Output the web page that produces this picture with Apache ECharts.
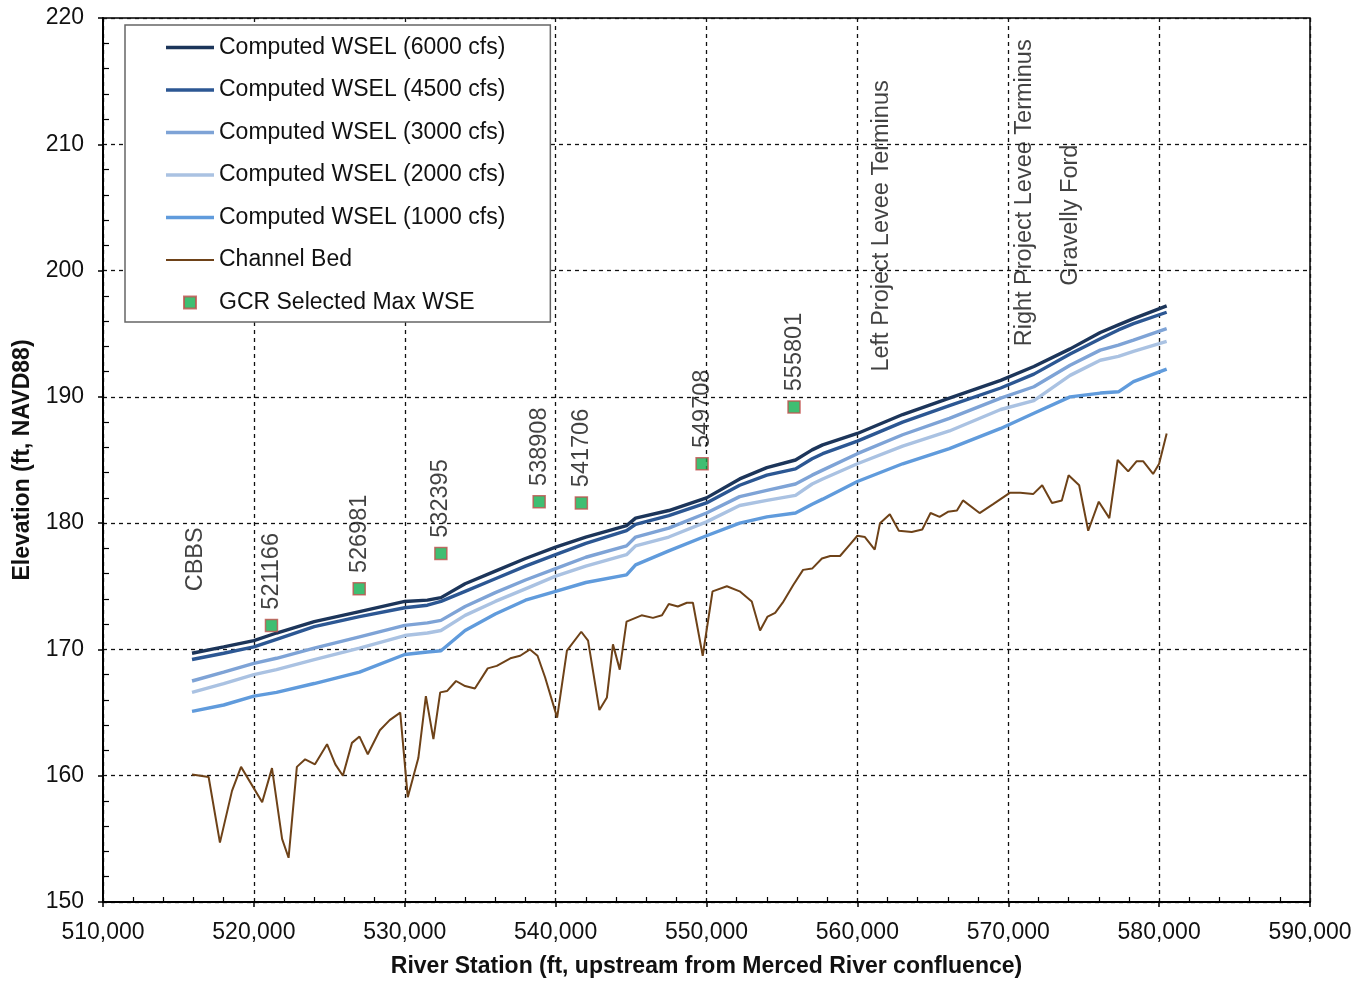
<!DOCTYPE html>
<html>
<head>
<meta charset="utf-8">
<script src="https://cdn.jsdelivr.net/npm/echarts@6/dist/echarts.min.js"></script>
<style>html,body{margin:0;padding:0;background:#fff}#c{width:1361px;height:983px}</style>
</head>
<body>
<div id="c"></div>
<script>
// ---------- DATA ----------
const wselStations = [515900, 518000, 520000, 521500, 524000, 527000, 530000, 531500, 532400, 534000, 536000, 538000, 540000, 542000, 544700, 545300, 547500, 550000, 552200, 554000, 555900, 557000, 557700, 560000, 563000, 566100, 569500, 571700, 574100, 576100, 577300, 578300, 580500];
const wsel6000 = [169.7, 170.2, 170.7, 171.3, 172.2, 173.0, 173.8, 173.9, 174.1, 175.2, 176.2, 177.2, 178.1, 178.9, 179.8, 180.4, 181.0, 182.0, 183.5, 184.4, 185.0, 185.8, 186.2, 187.1, 188.6, 189.9, 191.3, 192.4, 193.8, 195.1, 195.7, 196.2, 197.2];
const wsel4500 = [169.2, 169.7, 170.2, 170.8, 171.8, 172.6, 173.3, 173.5, 173.8, 174.6, 175.6, 176.6, 177.5, 178.4, 179.4, 179.9, 180.6, 181.6, 183.0, 183.8, 184.3, 185.1, 185.5, 186.5, 188.0, 189.3, 190.7, 191.8, 193.4, 194.6, 195.3, 195.8, 196.7];
const wsel3000 = [167.5, 168.2, 168.9, 169.3, 170.1, 171.0, 171.9, 172.1, 172.3, 173.4, 174.5, 175.5, 176.4, 177.3, 178.2, 178.9, 179.6, 180.8, 182.1, 182.6, 183.1, 183.8, 184.2, 185.5, 187.0, 188.3, 189.9, 190.8, 192.5, 193.7, 194.1, 194.5, 195.4];
const wsel2000 = [166.6, 167.3, 168.0, 168.4, 169.2, 170.1, 171.1, 171.3, 171.5, 172.7, 173.8, 174.8, 175.8, 176.6, 177.5, 178.2, 178.9, 180.1, 181.4, 181.8, 182.2, 183.1, 183.5, 184.7, 186.1, 187.3, 189.0, 189.7, 191.7, 192.9, 193.2, 193.6, 194.4];
const wsel1000 = [165.1, 165.6, 166.3, 166.6, 167.3, 168.2, 169.6, 169.8, 169.9, 171.5, 172.8, 173.9, 174.6, 175.3, 175.9, 176.7, 177.8, 179.0, 180.0, 180.5, 180.8, 181.5, 181.9, 183.3, 184.7, 185.9, 187.5, 188.7, 190.0, 190.3, 190.4, 191.2, 192.2];

const bedStations = [515900, 517000, 517750, 518550, 519150, 520550, 521200, 521870, 522300, 522850, 523400, 524050, 524850, 525400, 525900, 526500, 527000, 527550, 528350, 529000, 529700, 530200, 530900, 531400, 531900, 532350, 532800, 533400, 534000, 534650, 535500, 536100, 537000, 537650, 538300, 538800, 539300, 540100, 540750, 541700, 542150, 542900, 543400, 543800, 544250, 544700, 545700, 546450, 547050, 547500, 548100, 548700, 549100, 549750, 550400, 551350, 552200, 553000, 553550, 554050, 554550, 555050, 555750, 556400, 557000, 557650, 558200, 558850, 559500, 560000, 560500, 561150, 561500, 562150, 562750, 563600, 564300, 564850, 565450, 566000, 566600, 567000, 568100, 569000, 570100, 570800, 571650, 572250, 572900, 573550, 574000, 574700, 575300, 576000, 576700, 577250, 577950, 578500, 578950, 579600, 580000, 580500];
const bedElev = [160.1, 159.9, 154.7, 158.8, 160.7, 157.9, 160.6, 155.0, 153.5, 160.7, 161.3, 160.9, 162.5, 160.9, 160.0, 162.6, 163.1, 161.7, 163.6, 164.4, 165.0, 158.3, 161.4, 166.3, 162.9, 166.6, 166.7, 167.5, 167.1, 166.9, 168.5, 168.7, 169.3, 169.5, 170.0, 169.5, 167.8, 164.6, 169.9, 171.4, 170.7, 165.2, 166.2, 170.4, 168.4, 172.2, 172.7, 172.5, 172.7, 173.6, 173.4, 173.7, 173.7, 169.5, 174.6, 175.0, 174.6, 173.8, 171.5, 172.6, 172.9, 173.7, 175.1, 176.3, 176.4, 177.2, 177.4, 177.4, 178.3, 179.0, 178.9, 177.9, 180.0, 180.7, 179.4, 179.3, 179.5, 180.8, 180.5, 180.9, 181.0, 181.8, 180.8, 181.5, 182.4, 182.4, 182.3, 183.0, 181.6, 181.8, 183.8, 183.0, 179.4, 181.7, 180.4, 185.0, 184.1, 184.9, 184.9, 183.9, 184.7, 187.1];

const gcrStations = [521166, 526981, 532395, 538908, 541706, 549708, 555801];
const gcrElev = [171.9, 174.8, 177.6, 181.7, 181.6, 184.7, 189.2];

const annotationText = ['CBBS', 'Left Project Levee Terminus', 'Right Project Levee Terminus', 'Gravelly Ford'];
const annotationStation = [516100, 561600, 571100, 574100];
const annotationElev = [174.6, 192.0, 194.0, 198.8];

const seriesNames = ['Computed WSEL (6000 cfs)', 'Computed WSEL (4500 cfs)', 'Computed WSEL (3000 cfs)', 'Computed WSEL (2000 cfs)', 'Computed WSEL (1000 cfs)', 'Channel Bed', 'GCR Selected Max WSE'];
const xTitle = 'River Station (ft, upstream from Merced River confluence)';
const yTitle = 'Elevation (ft, NAVD88)';

// ---------- CHART ----------
const FONT = '"Liberation Sans", Arial, sans-serif';
const pair = (xs, ys) => xs.map((x, i) => [x, ys[i]]);
const wselColors = ['#1C355A', '#2C5793', '#7EA3D6', '#AAC2E2', '#609BDC'];
const bedColor = '#6E4218';
const wselData = [wsel6000, wsel4500, wsel3000, wsel2000, wsel1000];

const series = [];
wselData.forEach((vals, i) => {
  series.push({
    name: seriesNames[i], type: 'line', data: pair(wselStations, vals),
    symbol: 'none', lineStyle: { color: wselColors[i], width: 3.4 },
    itemStyle: { color: wselColors[i] }, z: 10 - i, silent: true
  });
});
series.push({
  name: seriesNames[5], type: 'line', data: pair(bedStations, bedElev),
  symbol: 'none', lineStyle: { color: bedColor, width: 2 }, itemStyle: { color: bedColor }, silent: true
});
series.push({
  name: seriesNames[6], type: 'scatter', data: pair(gcrStations, gcrElev),
  symbol: 'rect', symbolSize: 12, z: 12,
  itemStyle: { color: '#0FAE4F', borderColor: '#C0504D', borderWidth: 1.5 },
  label: {
    show: true, position: 'top', distance: 9, rotate: 90, align: 'left', verticalAlign: 'middle',
    formatter: p => String(p.value[0]), fontFamily: FONT, fontSize: 23.5, color: '#111'
  }, silent: true
});
series.push({
  name: 'annotations', type: 'scatter',
  data: annotationText.map((t, i) => ({ value: [annotationStation[i], annotationElev[i]], name: t })),
  symbol: 'circle', symbolSize: 0.1, itemStyle: { color: 'transparent' },
  label: {
    show: true, position: 'top', distance: 0, rotate: 90, align: 'left', verticalAlign: 'middle',
    formatter: p => p.name, fontFamily: FONT, fontSize: 23.5, color: '#111'
  }, silent: true
});

const thickLine = 'path://M0,0M48,14M0,5.3L48,5.3L48,8.7L0,8.7Z';
const thinLine = 'path://M0,0M48,14M0,6L48,6L48,8L0,8Z';
const squareIcon = 'path://M0,0M48,14M18,1L30,1L30,13L18,13Z';

const chart = echarts.init(document.getElementById('c'), null, { renderer: 'canvas' });
chart.setOption({
  backgroundColor: '#fff',
  animation: false,
  textStyle: { fontFamily: FONT },
  grid: { left: 103, right: 51, top: 18, bottom: 78, show: true, borderColor: '#000', borderWidth: 1.5, backgroundColor: 'transparent' },
  legend: {
    orient: 'vertical', left: 125, top: 25,
    padding: [11, 45, 8, 40], itemGap: 19.5, itemWidth: 48, itemHeight: 14,
    backgroundColor: '#fff', borderColor: '#666', borderWidth: 1.5, borderRadius: 0,
    textStyle: { fontFamily: FONT, fontSize: 23, color: '#111' },
    data: seriesNames.map((n, i) => ({ name: n, icon: i === 6 ? squareIcon : (i === 5 ? thinLine : thickLine) })),
    selectedMode: false
  },
  xAxis: {
    type: 'value', min: 510000, max: 590000, interval: 10000,
    name: xTitle, nameLocation: 'middle', nameGap: 53,
    nameTextStyle: { fontFamily: FONT, fontSize: 23, fontWeight: 'bold', color: '#111' },
    axisLine: { show: true, lineStyle: { color: '#000', width: 2 } },
    axisTick: { show: true, length: 5, lineStyle: { color: '#000', width: 1.5 } },
    minorTick: { show: true, splitNumber: 5, length: -5, lineStyle: { color: '#000', width: 1.2 } },
    axisLabel: { fontFamily: FONT, fontSize: 23, color: '#111', margin: 19, formatter: v => v.toLocaleString('en-US') },
    splitLine: { show: true, lineStyle: { color: '#111', width: 1.3, type: [4, 4] } }
  },
  yAxis: {
    type: 'value', min: 150, max: 220, interval: 10,
    name: yTitle, nameLocation: 'middle', nameGap: 69,
    nameTextStyle: { fontFamily: FONT, fontSize: 23, fontWeight: 'bold', color: '#111' },
    axisLine: { show: true, lineStyle: { color: '#000', width: 2 } },
    axisTick: { show: true, length: 5, lineStyle: { color: '#000', width: 1.5 } },
    minorTick: { show: true, splitNumber: 5, length: -6, lineStyle: { color: '#000', width: 1.2 } },
    axisLabel: { fontFamily: FONT, fontSize: 23, color: '#111', margin: 19 },
    splitLine: { show: true, lineStyle: { color: '#111', width: 1.3, type: [4, 4] } }
  },
  series: series
});
</script>
</body>
</html>
